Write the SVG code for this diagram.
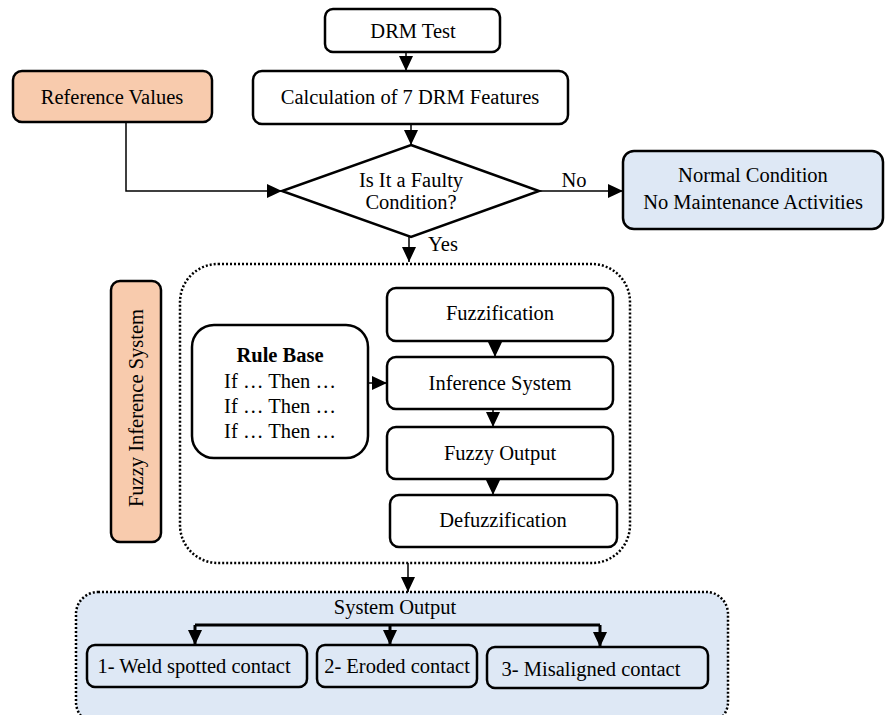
<svg xmlns="http://www.w3.org/2000/svg" width="885" height="715" viewBox="0 0 885 715">
<style>
text{font-family:"Liberation Serif","Tinos","Times New Roman","DejaVu Serif",serif;font-size:20.5px;fill:#000;text-anchor:middle}
.b{fill:#fff;stroke:#000;stroke-width:2.5}
.peach{fill:#F8CBAD;stroke:#000;stroke-width:2.5}
.blue{fill:#DEE8F5;stroke:#000;stroke-width:2.5}
.dot{fill:none;stroke:#000;stroke-width:2.5;stroke-dasharray:2 2}
.c{fill:none;stroke:#000;stroke-width:1.5}
.ct{fill:none;stroke:#000;stroke-width:3}
</style>
<defs>
<marker id="ah" markerUnits="userSpaceOnUse" markerWidth="16" markerHeight="14" refX="15" refY="7" orient="auto">
<path d="M0,0 L15,7 L0,14 z" fill="#000"/>
</marker>
</defs>
<g id="fis-container"><rect class="dot" x="180" y="264" width="450" height="299" rx="38"/></g>
<g id="system-output"><rect class="blue" x="76" y="592" width="652" height="132" rx="22" style="stroke-dasharray:2 2"/><text x="395" y="614">System Output</text></g>
<g id="drm-test"><rect class="b" x="325" y="9" width="175" height="43" rx="8"/><text x="413" y="38">DRM Test</text></g>
<g id="calc"><rect class="b" x="253" y="71" width="315" height="53" rx="9"/><text x="410" y="104">Calculation of 7 DRM Features</text></g>
<g id="ref-values"><rect class="peach" x="13" y="71" width="199" height="51" rx="9"/><text x="112" y="104">Reference Values</text></g>
<g id="decision"><polygon class="b" points="411,145 539,191 411,237 282,191"/><text x="411" y="187">Is It a Faulty</text><text x="411" y="209">Condition?</text></g>
<g id="normal"><rect class="blue" x="623" y="151" width="260" height="78" rx="11"/><text x="753" y="182">Normal Condition</text><text x="753" y="209">No Maintenance Activities</text></g>
<g id="fis-label"><rect class="peach" x="111" y="281" width="50" height="261" rx="9"/><text transform="translate(143,408) rotate(-90)">Fuzzy Inference System</text></g>
<g id="rule-base"><rect class="b" x="192" y="325" width="176" height="133" rx="22"/><text x="280" y="362" font-weight="bold">Rule Base</text><text x="280" y="388">If … Then …</text><text x="280" y="413">If … Then …</text><text x="280" y="438">If … Then …</text></g>
<g id="fuzzification"><rect class="b" x="387" y="288" width="226" height="53" rx="9"/><text x="500" y="320">Fuzzification</text></g>
<g id="inference"><rect class="b" x="387" y="357" width="226" height="52" rx="9"/><text x="500" y="390">Inference System</text></g>
<g id="fuzzy-output"><rect class="b" x="387" y="427" width="226" height="52" rx="9"/><text x="500" y="460">Fuzzy Output</text></g>
<g id="defuzzification"><rect class="b" x="390" y="495" width="227" height="52" rx="9"/><text x="503" y="527">Defuzzification</text></g>
<g id="out1"><rect class="blue" x="87" y="645" width="220" height="42" rx="8"/><text x="194" y="673">1- Weld spotted contact</text></g>
<g id="out2"><rect class="blue" x="317" y="645" width="160" height="42" rx="8"/><text x="397" y="673">2- Eroded contact</text></g>
<g id="out3"><rect class="blue" x="487" y="647" width="221" height="41" rx="8"/><text x="591" y="676">3- Misaligned contact</text></g>
<g id="connectors">
<line class="c" x1="406" y1="52" x2="406" y2="71" marker-end="url(#ah)"/>
<line class="c" x1="411" y1="124" x2="411" y2="145" marker-end="url(#ah)"/>
<polyline class="c" points="126,122 126,191 282,191" marker-end="url(#ah)"/>
<line class="c" x1="539" y1="191" x2="623" y2="191" marker-end="url(#ah)"/>
<text x="574" y="187">No</text>
<line class="c" x1="409" y1="237" x2="409" y2="262" marker-end="url(#ah)"/>
<text x="443" y="251">Yes</text>
<line class="c" x1="368" y1="383" x2="387" y2="383" marker-end="url(#ah)"/>
<line class="c" x1="495" y1="341" x2="495" y2="357" marker-end="url(#ah)"/>
<line class="c" x1="493" y1="409" x2="493" y2="427" marker-end="url(#ah)"/>
<line class="c" x1="493" y1="479" x2="493" y2="495" marker-end="url(#ah)"/>
<line class="c" x1="408" y1="563" x2="408" y2="592" marker-end="url(#ah)"/>
<line class="ct" x1="195" y1="625" x2="600" y2="625"/>
<line class="ct" x1="195" y1="625" x2="195" y2="645" marker-end="url(#ah)"/>
<line class="ct" x1="390" y1="625" x2="390" y2="645" marker-end="url(#ah)"/>
<line class="ct" x1="600" y1="625" x2="600" y2="647" marker-end="url(#ah)"/>
</g>
</svg>
